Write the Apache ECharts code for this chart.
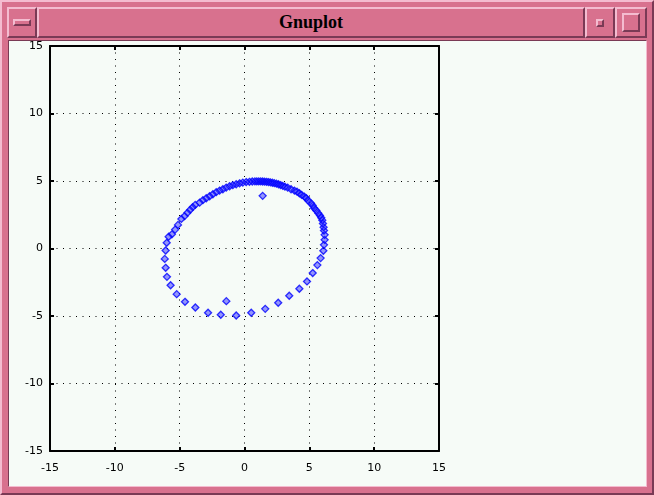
<!DOCTYPE html>
<html>
<head>
<meta charset="utf-8">
<script src="https://cdn.jsdelivr.net/npm/echarts@6/dist/echarts.min.js"></script>
<style>
  body { margin: 0; background: #d8718e; }
  .win { position: absolute; left: 0; top: 0; width: 654px; height: 495px; background: #d8718e;
         box-sizing: border-box; border: 2px solid; border-color: #f4bcd0 #7a3a55 #7a3a55 #f4bcd0; }
  .bev { position: absolute; box-sizing: border-box; background: #d8718e; border: 2px solid;
         border-color: #f4bcd0 #7a3a55 #7a3a55 #f4bcd0; }
  .title { font-family: "Liberation Serif", serif; font-weight: bold; font-size: 18px; color: #000;
           text-align: center; line-height: 27px; }
  .content { position: absolute; left: 8px; top: 40px; width: 639px; height: 447px; background: #f6fbf7;
             box-sizing: border-box; border: 1px solid; border-color: #7a3a55 #f4bcd0 #f4bcd0 #7a3a55; }
  #chart { position: absolute; left: 0; top: 0; width: 654px; height: 495px; }
</style>
</head>
<body>
<div class="win"></div>
<div class="bev" style="left:7px;top:7px;width:30px;height:31px;">
  <div class="bev" style="left:4px;top:10px;width:18px;height:7px;"></div>
</div>
<div class="bev title" style="left:37px;top:7px;width:548px;height:31px;">Gnuplot</div>
<div class="bev" style="left:585px;top:7px;width:30px;height:31px;">
  <div class="bev" style="left:9px;top:10px;width:8px;height:8px;"></div>
</div>
<div class="bev" style="left:615px;top:7px;width:32px;height:31px;">
  <div class="bev" style="left:5px;top:4px;width:18px;height:19px;"></div>
</div>
<div class="content"></div>
<div id="chart"></div>
<script>
  // orbit points
  let xs = [
    -5.23, -4.59, -3.79, -2.81, -1.83, -0.64, 0.52, 1.60, 2.60, 3.45,
    4.23, 4.82, 5.26, 5.62, 5.87, 6.08, 6.13, 6.18, 6.18, 6.13,
    6.10, 6.05, 6.00, 5.92, 5.82, 5.69, 5.54, 5.38, 5.26, 5.13,
    4.92, 4.77, 4.62, 4.41, 4.23, 4.05, 3.85, 3.59, 3.33, 3.12,
    2.95, 2.78, 2.62, 2.46, 2.30, 2.15, 2.00, 1.85, 1.70, 1.55,
    1.40, 1.25, 1.10, 0.95, 0.80, 0.60, 0.38, 0.13, -0.13, -0.38,
    -0.64, -0.90, -1.15, -1.41, -1.67, -1.92, -2.18, -2.44, -2.69, -2.95,
    -3.21, -3.46, -3.80, -4.00, -4.20, -4.40, -4.62, -4.87, -5.13, -5.35,
    -5.60, -5.85, -6.00, -6.08, -6.15, -6.08, -5.98, -5.70,
    1.40, -1.40
  ];
  let ys = [
    -3.38, -3.95, -4.37, -4.76, -4.91, -4.96, -4.76, -4.47, -4.02, -3.50,
    -2.98, -2.44, -1.82, -1.23, -0.71, -0.17, 0.27, 0.64, 1.01, 1.33,
    1.58, 1.85, 2.10, 2.28, 2.44, 2.62, 2.81, 2.98, 3.18, 3.36,
    3.53, 3.72, 3.84, 3.97, 4.09, 4.21, 4.29, 4.39, 4.51, 4.58,
    4.64, 4.70, 4.76, 4.80, 4.84, 4.87, 4.90, 4.92, 4.94, 4.95,
    4.96, 4.97, 4.97, 4.97, 4.97, 4.96, 4.94, 4.92, 4.88, 4.83,
    4.76, 4.69, 4.61, 4.51, 4.39, 4.29, 4.17, 4.02, 3.87, 3.72,
    3.58, 3.40, 3.23, 3.06, 2.86, 2.64, 2.40, 2.19, 1.75, 1.40,
    1.05, 0.87, 0.42, -0.15, -0.77, -1.43, -2.10, -2.72,
    3.90, -3.90
  ];
  let axisMin = -15;
  let axisMax = 15;
  let step = 5;

  let points = xs.map((x, i) => [x, ys[i]]);

  let myChart = echarts.init(document.getElementById('chart'));
  let font = { fontFamily: 'DejaVu Sans', fontSize: 11, color: '#000' };
  let tickStyle = { show: true, inside: true, length: 4, lineStyle: { color: '#000', width: 2 } };
  let option = {
    animation: false,
    grid: { left: 50, top: 46, width: 389, height: 405 },
    xAxis: [
      {
        type: 'value', min: axisMin, max: axisMax, interval: step, position: 'bottom',
        axisLine: { show: true, onZero: false, lineStyle: { color: '#000', width: 2 } },
        axisTick: tickStyle,
        axisLabel: Object.assign({ margin: 12 }, font),
        splitLine: { show: true, lineStyle: { color: '#000', width: 1, type: [1, 5.5] } }
      },
      {
        type: 'value', min: axisMin, max: axisMax, interval: step, position: 'top',
        axisLine: { show: true, onZero: false, lineStyle: { color: '#000', width: 2 } },
        axisTick: tickStyle, axisLabel: { show: false }, splitLine: { show: false }
      }
    ],
    yAxis: [
      {
        type: 'value', min: axisMin, max: axisMax, interval: step, position: 'left',
        axisLine: { show: true, onZero: false, lineStyle: { color: '#000', width: 2 } },
        axisTick: tickStyle,
        axisLabel: Object.assign({ margin: 7 }, font),
        splitLine: { show: true, lineStyle: { color: '#000', width: 1, type: [1, 5.5] } }
      },
      {
        type: 'value', min: axisMin, max: axisMax, interval: step, position: 'right',
        axisLine: { show: true, onZero: false, lineStyle: { color: '#000', width: 2 } },
        axisTick: tickStyle, axisLabel: { show: false }, splitLine: { show: false }
      }
    ],
    series: [
      {
        type: 'scatter',
        data: points,
        symbol: 'diamond',
        symbolSize: 7,
        itemStyle: { color: 'rgba(40,40,255,0.6)', borderColor: '#0000ff', borderWidth: 1.3 }
      }
    ]
  };
  myChart.setOption(option);
</script>
</body>
</html>
